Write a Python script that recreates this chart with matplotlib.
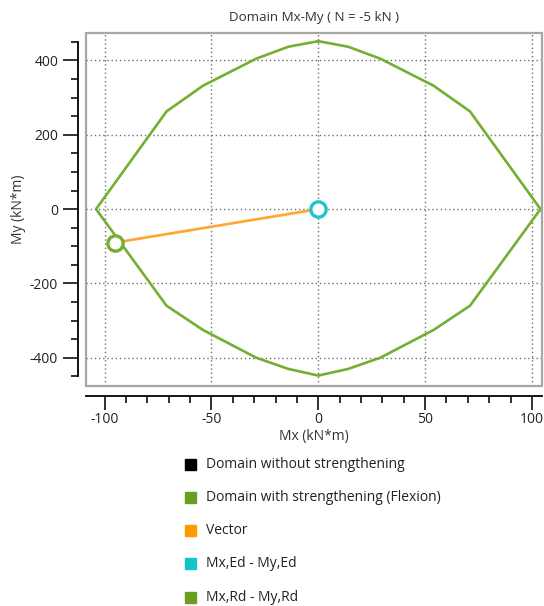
import matplotlib.pyplot as plt
from matplotlib.patches import Rectangle
import numpy as np

plt.rcParams['font.family'] = ['Open Sans', 'DejaVu Sans']
plt.rcParams['axes.unicode_minus'] = False

# contorno do dominio com reforco (Mx, My)
dom_mx = [0, 14, 29, 54, 71, 104, 71, 54, 29, 14, 0, -14, -29, -54, -71, -104, -71, -54, -29, -14, 0]
dom_my = [452, 437, 405, 332, 263, 0, -260, -325, -400, -430, -448, -430, -400, -325, -260, 0, 263, 332, 405, 437, 452]

# vetor de esforcos
ed_point = [0, 0]
rd_point = [-95, -90]

legend_labels = ['Domain without strengthening', 'Domain with strengthening (Flexion)',
                 'Vector', 'Mx,Ed - My,Ed', 'Mx,Rd - My,Rd']
legend_colors = ['#000000', '#6a9e1f', '#ff9900', '#11c4c8', '#6a9e1f']

verde = '#74ae32'
laranja = '#ffa530'
ciano = '#1cc6cc'

fig = plt.figure(figsize=(5.44, 6.06), dpi=100)
ax = fig.add_axes([86/544, 1-386/606, (542-86)/544, (386-33)/606])

ax.plot(dom_mx, dom_my, color=verde, lw=1.9, zorder=3)
ax.plot([ed_point[0], rd_point[0]], [ed_point[1], rd_point[1]], color=laranja, lw=1.9, zorder=4)
ax.plot(*ed_point, 'o', ms=11, mfc='white', mec=ciano, mew=2.4, zorder=5)
ax.plot(*rd_point, 'o', ms=11, mfc='white', mec=verde, mew=2.4, zorder=5)

ax.set_xlim(-108.7, 104.7)
ax.set_ylim(-476, 474)

ax.set_xticks(np.arange(-100, 101, 50))
ax.set_xticks(np.arange(-100, 101, 10), minor=True)
ax.set_yticks(np.arange(-400, 401, 200))
ax.set_yticks(np.arange(-450, 451, 50), minor=True)
ax.grid(which='major', color='#707070', lw=1.0, linestyle=(0, (1, 2)))

for s in ['top', 'right']:
    ax.spines[s].set_visible(False)
ax.spines['left'].set_position(('outward', 6))
ax.spines['bottom'].set_position(('outward', 7))
ax.spines['left'].set_bounds(-450, 450)
ax.spines['left'].set_linewidth(1.3)
ax.spines['bottom'].set_linewidth(1.3)
ax.add_patch(Rectangle((0, 0), 1, 1, transform=ax.transAxes, fill=False,
                       edgecolor='#a6a6a6', lw=1.6, clip_on=False, zorder=6))

ax.tick_params(which='major', direction='out', length=11, width=1.3, labelsize=10, colors='#222222', pad=3)
ax.tick_params(which='minor', direction='out', length=5, width=1.3, colors='#222222')
ax.tick_params(axis='x', which='major', length=10, pad=2)

ax.set_title('Domain Mx-My ( N = -5 kN )', fontsize=9.6, color='#333333', pad=9)
ax.set_xlabel('Mx (kN*m)', fontsize=10, color='#333333', labelpad=1)
ax.set_ylabel('My (kN*m)', fontsize=10, color='#333333', labelpad=3)

# legenda manual abaixo do grafico
for i, (lab, cor) in enumerate(zip(legend_labels, legend_colors)):
    y = 464 + i * 33.3
    fig.patches.append(Rectangle((185/544, 1-(y+5.5)/606), 11/544, 11/606,
                                 transform=fig.transFigure, color=cor, figure=fig))
    fig.text(206/544, 1-y/606, lab, fontsize=10, color='#222222', va='center', ha='left')

fig.savefig('out.png', dpi=100)
